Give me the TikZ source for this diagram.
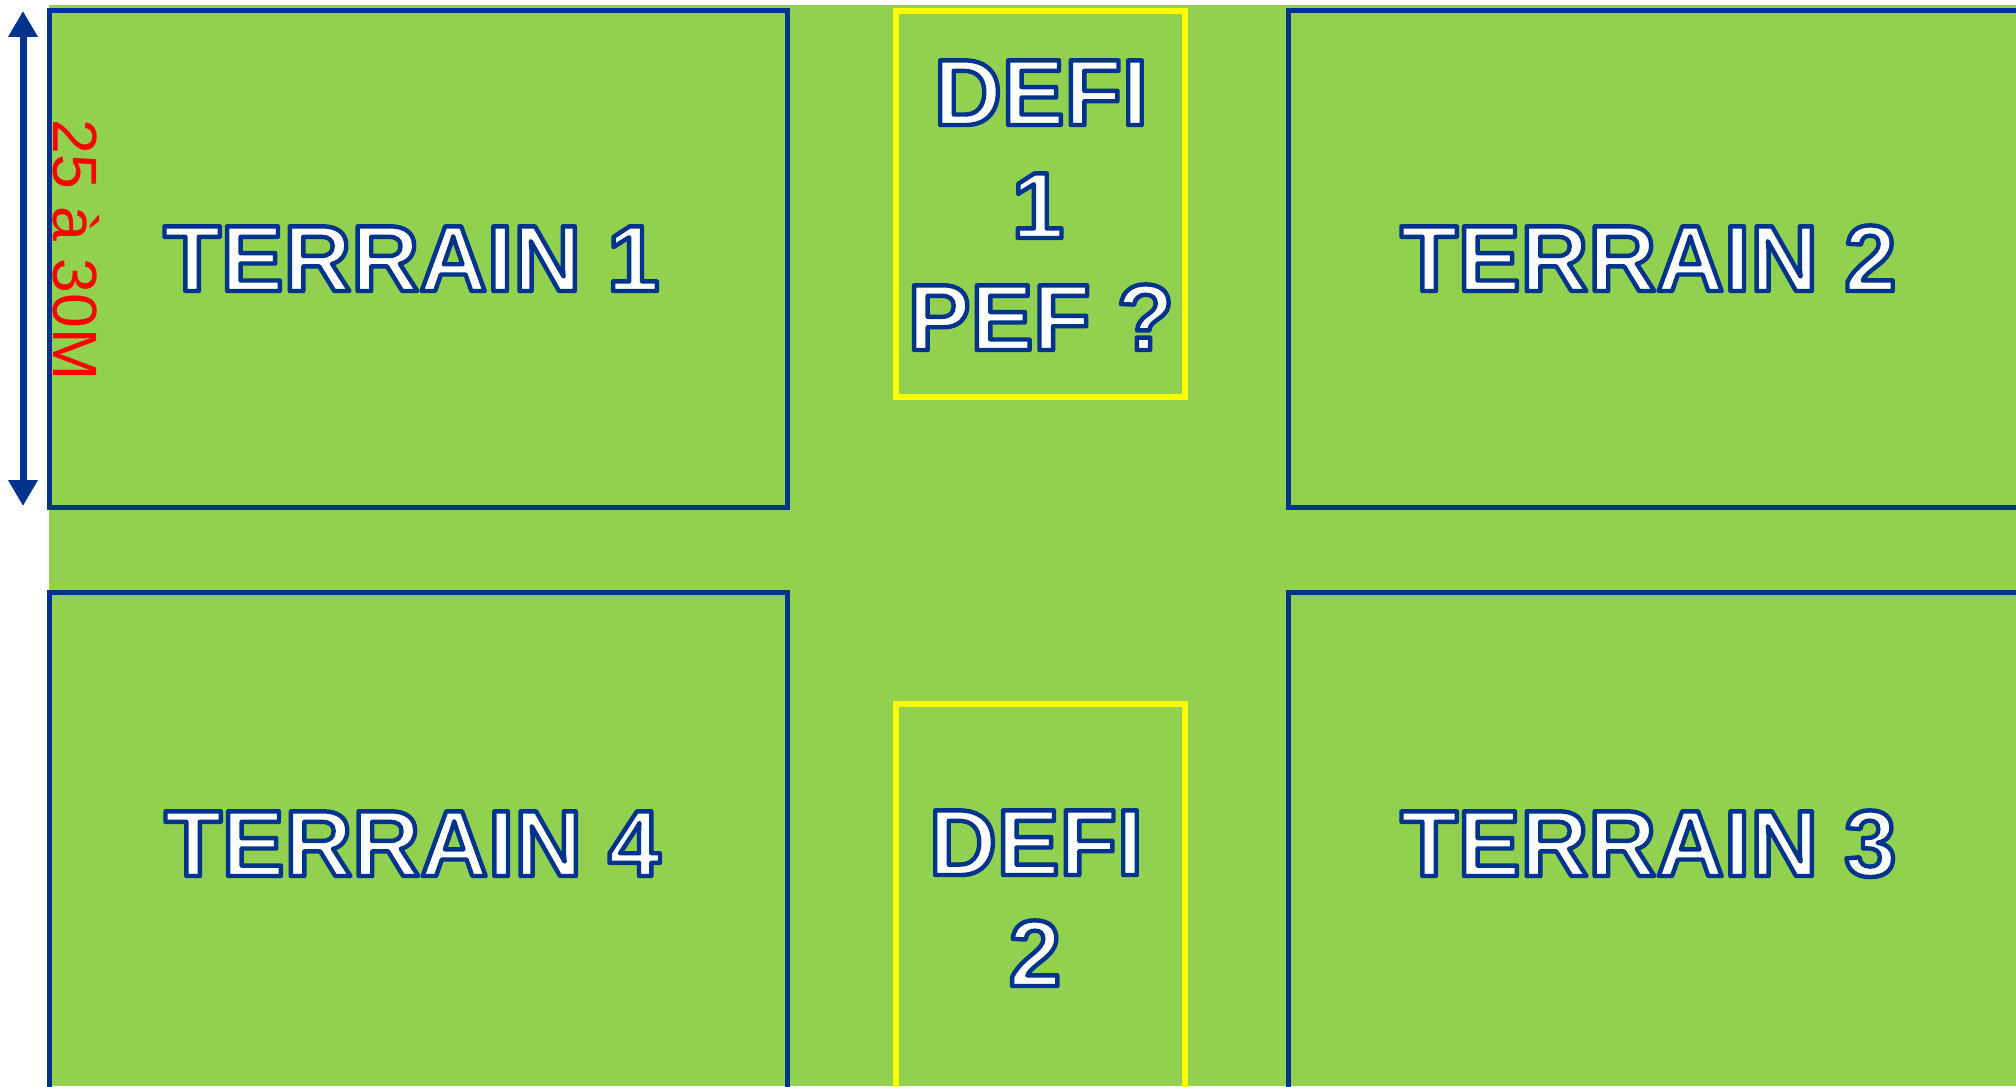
\documentclass[tikz,border=0pt]{standalone}
\usepackage{fontspec}
\setmainfont{Liberation Sans}
\usetikzlibrary{arrows.meta}
\definecolor{fieldgreen}{RGB}{146,208,80}
\definecolor{lineblue}{RGB}{0,51,140}
\definecolor{defiyellow}{RGB}{255,255,0}
\newcommand{\outl}[1]{{\special{pdf:literal direct 0 0.2 0.549 RG 2.2 w 1 j 2 Tr}#1\special{pdf:literal direct 0 Tr}}}
\tikzset{
  field/.style={draw=lineblue, line width=2.5pt, rectangle, inner sep=0pt, outer sep=0pt},
  defibox/.style={draw=defiyellow, line width=3pt, rectangle, inner sep=0pt, outer sep=0pt},
  bigtext/.style={text=white, inner sep=0pt, font=\fontsize{47}{56}\selectfont\bfseries},
  dimtext/.style={text=red, inner sep=0pt, font=\fontsize{31.3}{36}\selectfont},
  dimarrow/.style={draw=lineblue, line width=3.5pt, {Triangle[width=14pt,length=13pt]}-{Triangle[width=14pt,length=13pt]}}
}
\begin{document}
\begin{tikzpicture}[x=0.5pt,y=-0.5pt]
\useasboundingbox (0,0) rectangle (2016,1086);
\clip (0,0) rectangle (2016,1086);
\fill[white] (0,0) rectangle (2016,1086);
\fill[fieldgreen] (49,5) rectangle (2016,1086);
% fields
\node[field, minimum width=369pt, minimum height=248pt] (t1) at (418,259) {};
\node[field, minimum width=406pt, minimum height=248pt] (t2) at (1694,259) {};
\node[field, minimum width=369pt, minimum height=279pt] (t4) at (418,871) {};
\node[field, minimum width=406pt, minimum height=279pt] (t3) at (1694,871) {};
% defi boxes
\node[defibox, minimum width=144.5pt, minimum height=193pt] (d1) at (1040.5,204) {};
\node[defibox, minimum width=144.5pt, minimum height=223pt] (d2) at (1040.5,927) {};
% field labels
\node[bigtext, anchor=base west] (l1) at (163,291) {\outl{TERRAIN 1}};
\node[bigtext, anchor=base west] (l2) at (1400,291) {\outl{TERRAIN 2}};
\node[bigtext, anchor=base west] (l4) at (164,876) {\outl{TERRAIN 4}};
\node[bigtext, anchor=base west] (l3) at (1400,876) {\outl{TERRAIN 3}};
% defi labels
\node[bigtext, anchor=base] (d1a) at (1041,125) {\outl{DEFI}};
\node[bigtext, anchor=base] (d1b) at (1038,238) {\outl{1}};
\node[bigtext, anchor=base] (d1c) at (1041,350) {\outl{PEF ?}};
\node[bigtext, anchor=base] (d2a) at (1036,875) {\outl{DEFI}};
\node[bigtext, anchor=base] (d2b) at (1035,986) {\outl{2}};
% dimension
\coordinate (ar1) at (23,11);
\coordinate (ar2) at (23,506);
\draw[dimarrow] (ar1) -- (ar2);
\node[dimtext, rotate=-90, anchor=base west] (dim) at (53,119) {25 à 30M};
\end{tikzpicture}
\end{document}
